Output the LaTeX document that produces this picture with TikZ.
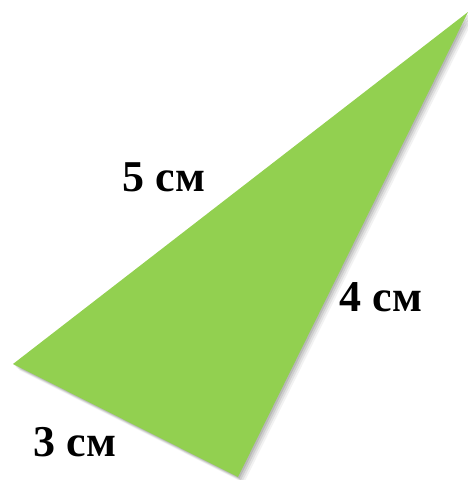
\documentclass[tikz,border=0pt]{standalone}
\usepackage{fontspec}
\setmainfont{Liberation Serif}
\usetikzlibrary{calc}
\definecolor{trigreen}{HTML}{92D050}
\tikzset{side label/.style={font=\fontsize{44}{46}\selectfont\bfseries, inner sep=0pt}}
\begin{document}
\begin{tikzpicture}[x=1pt, y=-1pt]
  \useasboundingbox (0,0) rectangle (468,480);
  % corners of the triangle
  \coordinate (A) at (468,12);
  \coordinate (B) at (13,364);
  \coordinate (C) at (238,477);
  % soft shadow
  \foreach \d/\o in {6/0.05, 4.5/0.07, 3/0.09, 1.5/0.1}
    \fill[black, opacity=\o] ($(A)+(\d,\d)$) -- ($(B)+(\d,\d)$) -- ($(C)+(\d,\d)$) -- cycle;
  \fill[trigreen] (A) -- (B) -- (C) -- cycle;
  \node[side label] (hyp) at (164,177) {5 см};
  \node[side label] (leg4) at (381,297) {4 см};
  \node[side label] (leg3) at (75,442) {3 см};
\end{tikzpicture}
\end{document}
